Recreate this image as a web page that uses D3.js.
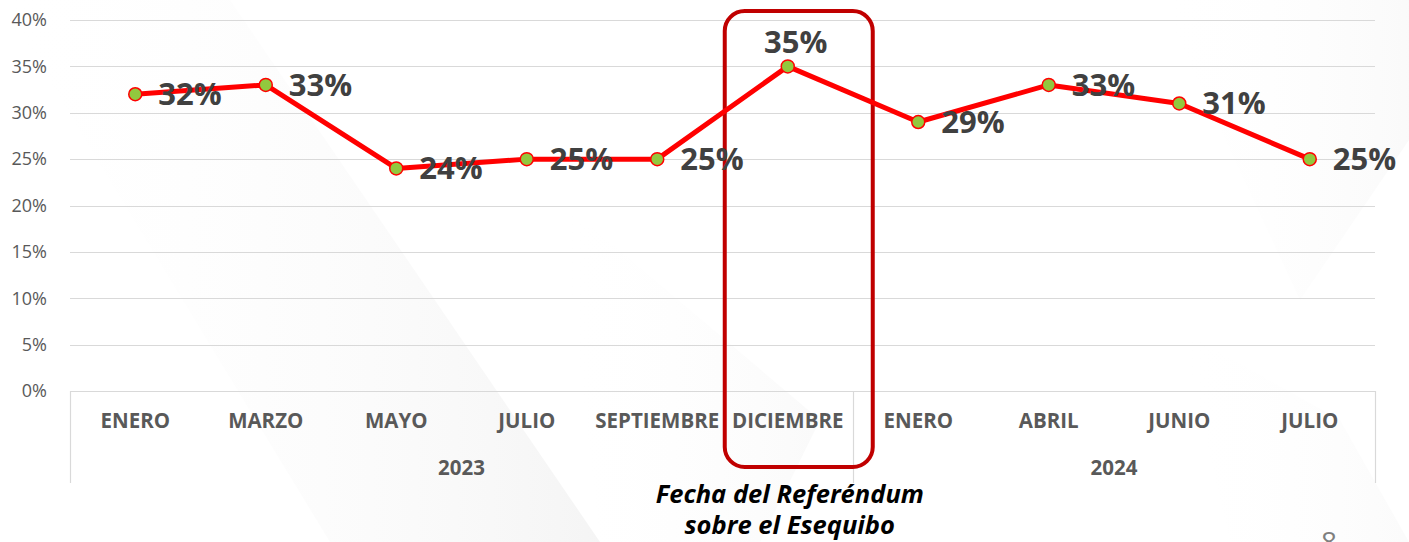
<!DOCTYPE html>
<html>
<head>
<meta charset="utf-8">
<script src="https://cdn.jsdelivr.net/npm/d3@7"></script>
<style>
  body { margin: 0; background: #fff; }
  svg { display: block; font-family: "Open Sans", sans-serif; }
</style>
</head>
<body>
<svg width="1409" height="542"></svg>
<script>
// data
var months = ["ENERO", "MARZO", "MAYO", "JULIO", "SEPTIEMBRE", "DICIEMBRE", "ENERO", "ABRIL", "JUNIO", "JULIO"];
var years = ["2023", "2023", "2023", "2023", "2023", "2023", "2024", "2024", "2024", "2024"];
var values = [0.32, 0.33, 0.24, 0.25, 0.25, 0.35, 0.29, 0.33, 0.31, 0.25];
var yTicks = [0, 0.05, 0.10, 0.15, 0.20, 0.25, 0.30, 0.35, 0.40];
var highlightMonth = "DICIEMBRE";
var note = ["Fecha del Referéndum", "sobre el Esequibo"];
var pageNumber = "8";

var width = 1409;
var height = 542;
var padLeft = 70, padRight = 1375, padTop = 20, padBottom = 391;

var keys = months.map((m, i) => years[i] + "|" + m);
var data = values.map((v, i) => ({key: keys[i], month: months[i], year: years[i], value: v}));

var svg = d3.select("svg");

// faint watermark in the background
var defs = svg.append("defs");
var grad = defs.append("linearGradient").attr("id", "wm").attr("x1", 0).attr("y1", 0).attr("x2", 1).attr("y2", 0);
grad.append("stop").attr("offset", "0%").attr("stop-color", "#fff").attr("stop-opacity", 0);
grad.append("stop").attr("offset", "100%").attr("stop-color", "#ececec").attr("stop-opacity", 0.55);
var wm = svg.append("g");
wm.append("path").attr("d", "M0,0 L230,0 L600,542 L330,542 Z").attr("fill", "url(#wm)");
wm.append("path").attr("d", "M560,200 L820,420 L760,542 L600,542 Z").attr("fill", "url(#wm)").attr("opacity", 0.5);
wm.append("path").attr("d", "M1160,0 L1409,0 L1409,140 L1300,300 Z").attr("fill", "url(#wm)").attr("opacity", 0.5);
wm.append("path").attr("d", "M1180,330 L1340,420 L1409,542 L1230,542 Z").attr("fill", "url(#wm)").attr("opacity", 0.4);

var x = d3.scaleBand().domain(keys).range([padLeft, padRight]);
var y = d3.scaleLinear().domain([0, 0.4]).range([padBottom, padTop]);

// gridlines
svg.append("g")
  .selectAll("line")
  .data(yTicks)
  .enter()
  .append("line")
  .attr("x1", padLeft)
  .attr("x2", padRight)
  .attr("y1", d => Math.round(y(d)) + 0.5)
  .attr("y2", d => Math.round(y(d)) + 0.5)
  .attr("stroke", "#d9d9d9")
  .attr("stroke-width", 1.2);

// y axis labels
var yAxis = d3.axisLeft(y).tickValues(yTicks).tickFormat(d3.format(".0%")).tickSize(0).tickPadding(23);
var yg = svg.append("g").attr("transform", "translate(" + padLeft + ",0)").call(yAxis);
yg.select(".domain").remove();
yg.selectAll("text").attr("font-size", 18).attr("fill", "#595959").attr("font-family", "Open Sans");

// category axis, two levels
var axisBottom = 483;
var groups = d3.groups(data, d => d.year).map(([yr, rows]) => ({
  year: yr,
  x0: x(rows[0].key),
  x1: x(rows[rows.length - 1].key) + x.bandwidth()
}));

var ax = svg.append("g");
ax.selectAll("line.sep")
  .data([padLeft].concat(groups.map(g => g.x1)))
  .enter()
  .append("line")
  .attr("class", "sep")
  .attr("x1", d => Math.round(d) + 0.5)
  .attr("x2", d => Math.round(d) + 0.5)
  .attr("y1", padBottom)
  .attr("y2", axisBottom)
  .attr("stroke", "#d9d9d9")
  .attr("stroke-width", 1.2);

ax.selectAll("text.month")
  .data(data)
  .enter()
  .append("text")
  .attr("class", "month")
  .attr("x", d => x(d.key) + x.bandwidth() / 2)
  .attr("y", 428)
  .attr("text-anchor", "middle")
  .attr("font-size", 20.5)
  .attr("font-weight", "bold")
  .attr("fill", "#595959")
  .text(d => d.month);

ax.selectAll("text.year")
  .data(groups)
  .enter()
  .append("text")
  .attr("class", "year")
  .attr("x", d => (d.x0 + d.x1) / 2)
  .attr("y", 475)
  .attr("text-anchor", "middle")
  .attr("font-size", 20.5)
  .attr("font-weight", "bold")
  .attr("fill", "#595959")
  .text(d => d.year);

// highlight box around the referendum month
var hk = keys[months.indexOf(highlightMonth)];
svg.append("rect")
  .attr("x", x(hk) + x.bandwidth() / 2 - 63)
  .attr("y", 11)
  .attr("width", 148)
  .attr("height", 456)
  .attr("rx", 20)
  .attr("fill", "none")
  .attr("stroke", "#c00000")
  .attr("stroke-width", 4);

// line
var line = d3.line().x(d => x(d.key) + x.bandwidth() / 2).y(d => y(d.value));
svg.append("path")
  .datum(data)
  .attr("d", line)
  .attr("fill", "none")
  .attr("stroke", "#ff0000")
  .attr("stroke-width", 5)
  .attr("stroke-linejoin", "round");

svg.append("g")
  .selectAll("circle")
  .data(data)
  .enter()
  .append("circle")
  .attr("cx", d => x(d.key) + x.bandwidth() / 2)
  .attr("cy", d => y(d.value))
  .attr("r", 6.5)
  .attr("fill", "#92c83e")
  .attr("stroke", "#ff0000")
  .attr("stroke-width", 1.5);

// data labels: right of the point, above it for the highlighted month
svg.append("g")
  .selectAll("text")
  .data(data)
  .enter()
  .append("text")
  .attr("x", d => x(d.key) + x.bandwidth() / 2 + (d.key === hk ? 8 : 23))
  .attr("y", d => y(d.value) + (d.key === hk ? -13 : 11))
  .attr("text-anchor", d => d.key === hk ? "middle" : "start")
  .attr("font-size", 31)
  .attr("font-weight", "bold")
  .attr("fill", "#404040")
  .text(d => d3.format(".0%")(d.value));

// note under the box
svg.append("g")
  .selectAll("text")
  .data(note)
  .enter()
  .append("text")
  .attr("x", x(hk) + x.bandwidth() / 2 + 2)
  .attr("y", (d, i) => 503 + i * 31)
  .attr("text-anchor", "middle")
  .attr("font-size", 25.5)
  .attr("font-weight", "bold")
  .attr("font-style", "italic")
  .attr("fill", "#000")
  .text(d => d);

svg.append("text")
  .attr("x", 1329)
  .attr("y", 552)
  .attr("text-anchor", "middle")
  .attr("font-size", 28)
  .attr("fill", "#7f7f7f")
  .text(pageNumber);
</script>
</body>
</html>
